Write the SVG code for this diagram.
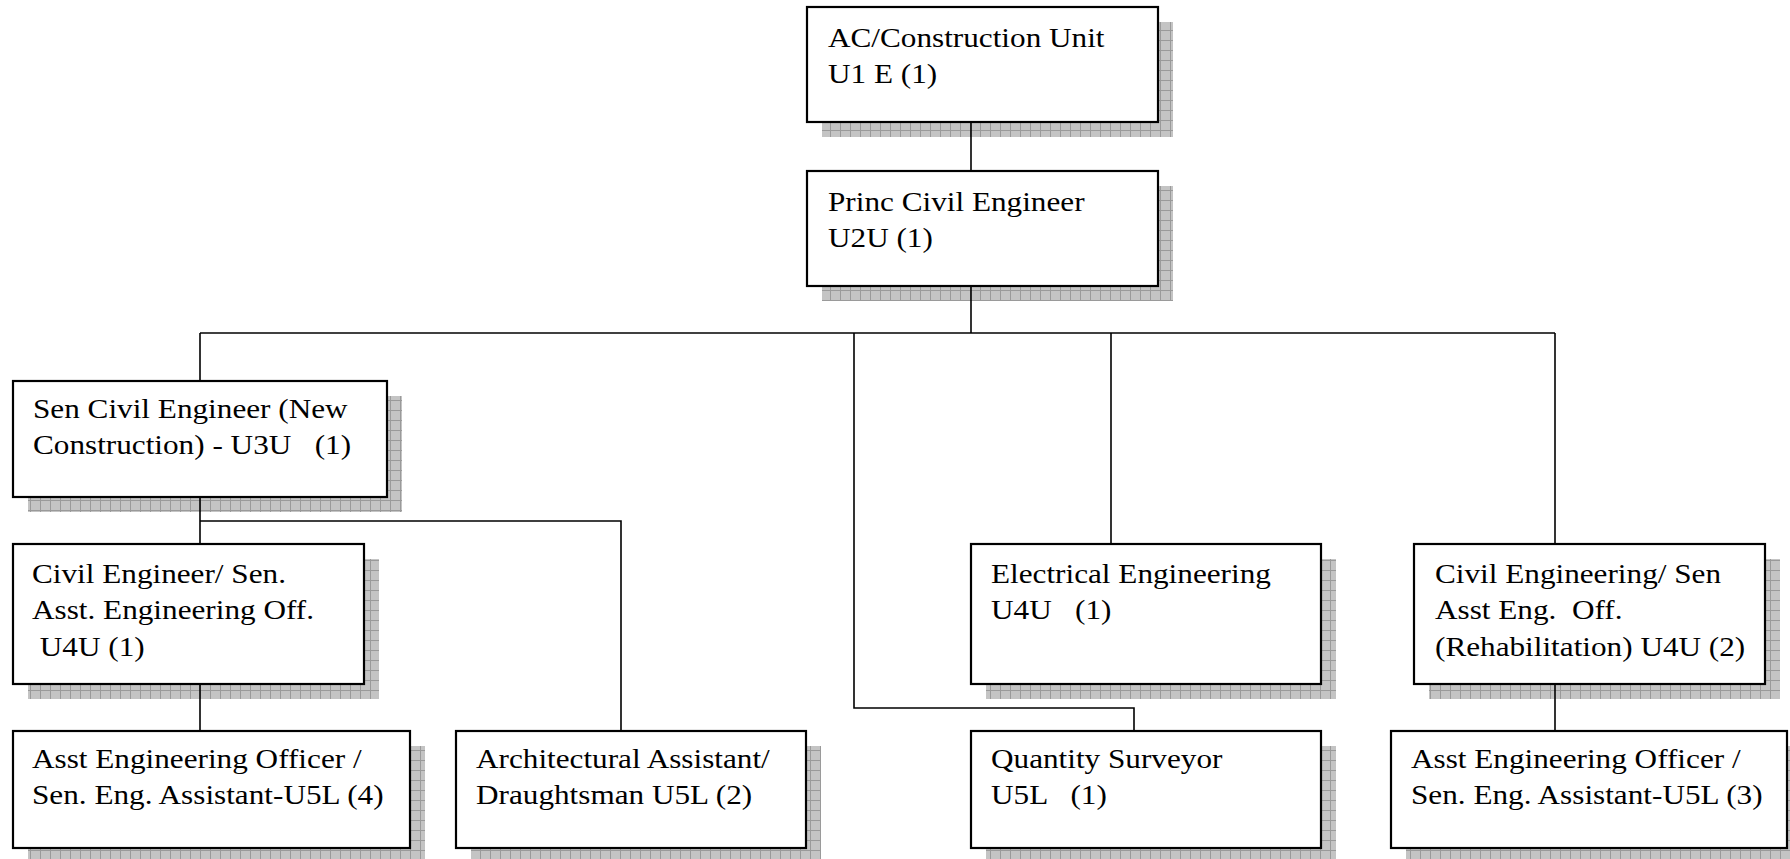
<svg xmlns="http://www.w3.org/2000/svg" width="1790" height="859" viewBox="0 0 1790 859">
<style>
.box{fill:#ffffff;stroke:#000000;stroke-width:2.2}
.shadow{fill:url(#grid)}
text{font-family:'Liberation Serif','Times New Roman','DejaVu Serif',serif;font-size:28px;fill:#000000;white-space:pre}
.conn{fill:none;stroke:#000000;stroke-width:1.6}
</style>
<defs>
<pattern id="grid" patternUnits="userSpaceOnUse" width="10" height="10">
<rect width="10" height="10" fill="#c4c4c4"/>
<path d="M0 0.5H10M0.5 0V10" stroke="#9a9a9a" stroke-width="1"/>
</pattern>
</defs>
<rect width="1790" height="859" fill="#ffffff"/>
<g id="node-ac">
<rect class="shadow" x="822" y="22" width="351" height="115"/>
<rect class="box" x="807" y="7" width="351" height="115"/>
<text font-family="Liberation Serif, serif" transform="translate(828,47) scale(1.115,1)"><tspan x="0" y="0">AC/Construction Unit</tspan><tspan x="0" y="36.5">U1 E (1)</tspan></text>
</g>
<g id="node-princ">
<rect class="shadow" x="822" y="186" width="351" height="115"/>
<rect class="box" x="807" y="171" width="351" height="115"/>
<text font-family="Liberation Serif, serif" transform="translate(828,211) scale(1.115,1)"><tspan x="0" y="0">Princ Civil Engineer</tspan><tspan x="0" y="36.5">U2U (1)</tspan></text>
</g>
<g id="node-sen">
<rect class="shadow" x="28" y="396" width="374" height="116"/>
<rect class="box" x="13" y="381" width="374" height="116"/>
<text font-family="Liberation Serif, serif" transform="translate(33,418) scale(1.115,1)"><tspan x="0" y="0">Sen Civil Engineer (New</tspan><tspan x="0" y="36.5" xml:space="preserve">Construction) - U3U   (1)</tspan></text>
</g>
<g id="node-civil-left">
<rect class="shadow" x="28" y="559" width="351" height="140"/>
<rect class="box" x="13" y="544" width="351" height="140"/>
<text font-family="Liberation Serif, serif" transform="translate(32,583) scale(1.115,1)"><tspan x="0" y="0">Civil Engineer/ Sen.</tspan><tspan x="0" y="36.5">Asst. Engineering Off.</tspan><tspan x="0" y="73" xml:space="preserve"> U4U (1)</tspan></text>
</g>
<g id="node-asst-left">
<rect class="shadow" x="28" y="746" width="397" height="117"/>
<rect class="box" x="13" y="731" width="397" height="117"/>
<text font-family="Liberation Serif, serif" transform="translate(32,768) scale(1.115,1)"><tspan x="0" y="0">Asst Engineering Officer /</tspan><tspan x="0" y="36.5">Sen. Eng. Assistant-U5L (4)</tspan></text>
</g>
<g id="node-arch">
<rect class="shadow" x="471" y="746" width="350" height="117"/>
<rect class="box" x="456" y="731" width="350" height="117"/>
<text font-family="Liberation Serif, serif" transform="translate(476,768) scale(1.115,1)"><tspan x="0" y="0">Architectural Assistant/</tspan><tspan x="0" y="36.5">Draughtsman U5L (2)</tspan></text>
</g>
<g id="node-elec">
<rect class="shadow" x="986" y="559" width="350" height="140"/>
<rect class="box" x="971" y="544" width="350" height="140"/>
<text font-family="Liberation Serif, serif" transform="translate(991,583) scale(1.115,1)"><tspan x="0" y="0">Electrical Engineering</tspan><tspan x="0" y="36.5" xml:space="preserve">U4U   (1)</tspan></text>
</g>
<g id="node-qs">
<rect class="shadow" x="986" y="746" width="350" height="117"/>
<rect class="box" x="971" y="731" width="350" height="117"/>
<text font-family="Liberation Serif, serif" transform="translate(991,768) scale(1.115,1)"><tspan x="0" y="0">Quantity Surveyor</tspan><tspan x="0" y="36.5" xml:space="preserve">U5L   (1)</tspan></text>
</g>
<g id="node-civil-right">
<rect class="shadow" x="1429" y="559" width="351" height="140"/>
<rect class="box" x="1414" y="544" width="351" height="140"/>
<text font-family="Liberation Serif, serif" transform="translate(1435,583) scale(1.115,1)"><tspan x="0" y="0">Civil Engineering/ Sen</tspan><tspan x="0" y="36.5" xml:space="preserve">Asst Eng.  Off.</tspan><tspan x="0" y="73">(Rehabilitation) U4U (2)</tspan></text>
</g>
<g id="node-asst-right">
<rect class="shadow" x="1406" y="746" width="396" height="117"/>
<rect class="box" x="1391" y="731" width="396" height="117"/>
<text font-family="Liberation Serif, serif" transform="translate(1411,768) scale(1.115,1)"><tspan x="0" y="0">Asst Engineering Officer /</tspan><tspan x="0" y="36.5">Sen. Eng. Assistant-U5L (3)</tspan></text>
</g>
<g id="connectors">
<path class="conn" d="M971 122V171"/>
<path class="conn" d="M971 286V333"/>
<path class="conn" d="M200 333H1555"/>
<path class="conn" d="M200 333V381"/>
<path class="conn" d="M854 333V708H1134V731"/>
<path class="conn" d="M1111 333V544"/>
<path class="conn" d="M1555 333V544"/>
<path class="conn" d="M200 497V544"/>
<path class="conn" d="M200 521H621V731"/>
<path class="conn" d="M200 684V731"/>
<path class="conn" d="M1555 684V731"/>
</g>
</svg>
